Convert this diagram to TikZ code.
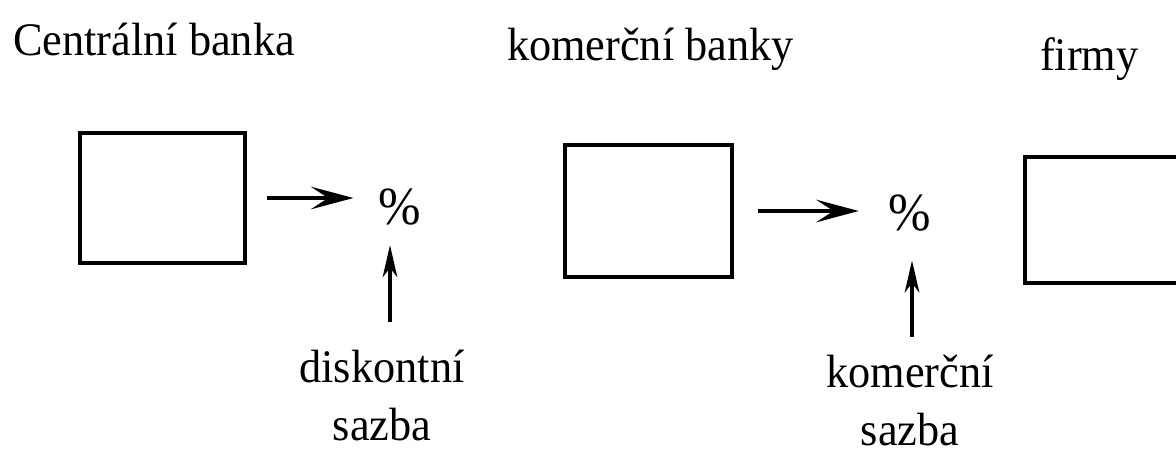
\documentclass[tikz,border=0pt]{standalone}
\usepackage{fontspec}
\setmainfont{Liberation Serif}[FakeStretch=0.95]
\usetikzlibrary{arrows.meta}
\begin{document}
\begin{tikzpicture}[x=0.75pt,y=-0.75pt,
  every node/.style={font=\fontsize{35}{43}\selectfont},
  boxnode/.style={draw, line width=3pt, inner sep=0pt, outer sep=0pt},
  txt/.style={inner sep=0pt, outer sep=0pt},
  harrow/.style={line width=2.6pt, -{Stealth[length=32pt,width=17pt,inset=13pt]}},
  varrow/.style={line width=2.6pt, -{Stealth[length=24pt,width=11pt,inset=7pt]}}]
\clip (0,0) rectangle (1176,454);
\fill[white] (0,0) rectangle (1176,454);
% titles
\node[txt, anchor=base west] (t1) at (13,55) {Centrální banka};
\node[txt, anchor=base west] (t2) at (507,60) {komerční banky};
\node[txt, anchor=base west] (t3) at (1040,70) {firmy};
% boxes
\node[boxnode, minimum width=123.75pt, minimum height=97.5pt] (b1) at (162.5,198) {};
\node[boxnode, minimum width=125.25pt, minimum height=99pt] (b2) at (648.5,211) {};
\node[boxnode, minimum width=131.25pt, minimum height=94.5pt] (b3) at (1112.5,220) {};
% percent signs
\node[txt, scale=1.15] (p1) at (400,207) {\%};
\node[txt, scale=1.15] (p2) at (910,213) {\%};
% rate labels
\node[txt, anchor=base, align=center] (r1) at (382,440) {diskontní\\sazba};
\node[txt, anchor=base, align=center] (r2) at (910,445) {komerční\\sazba};
% arrows
\draw[harrow, shorten <=16.5pt, shorten >=19pt] (b1.east) -- (b1.east -| p1.west);
\draw[harrow, shorten <=19.5pt, shorten >=22.5pt] (b2.east) -- (b2.east -| p2.west);
\coordinate (c1) at ([xshift=-7.5pt]p1.south |- r1.north);
\coordinate (c2) at ([xshift=1.5pt]p2.south |- r2.north);
\draw[varrow, shorten <=21pt, shorten >=15pt] (c1) -- (c1 |- p1.south);
\draw[varrow, shorten <=14pt, shorten >=22pt] (c2) -- (c2 |- p2.south);
\end{tikzpicture}
\end{document}
